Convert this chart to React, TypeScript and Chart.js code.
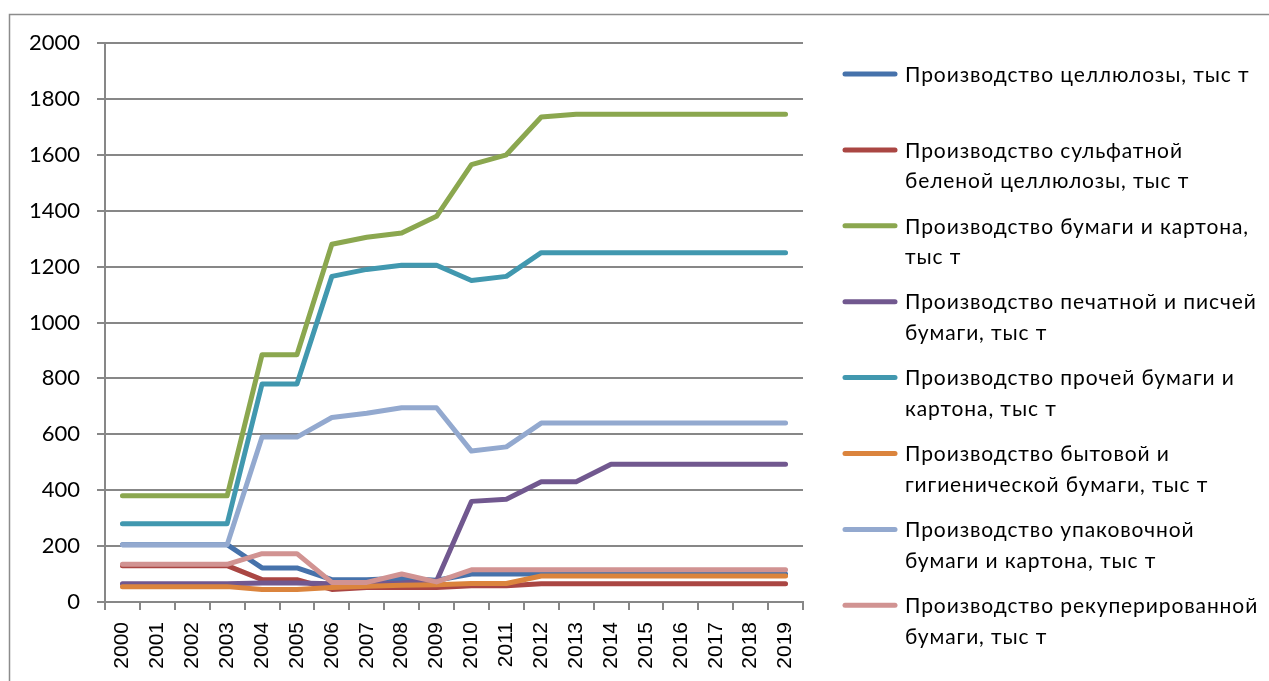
import { useEffect, useRef } from 'react';
import { Chart, registerables } from 'chart.js';

Chart.register(...registerables);

const years = ['2000', '2001', '2002', '2003', '2004', '2005', '2006', '2007', '2008', '2009', '2010', '2011', '2012', '2013', '2014', '2015', '2016', '2017', '2018', '2019'];

const cellulose = [205, 205, 205, 205, 122, 122, 80, 80, 85, 78, 100, 100, 100, 100, 100, 100, 100, 100, 100, 100];
const sulfateCellulose = [130, 130, 130, 130, 80, 80, 45, 52, 52, 52, 58, 58, 65, 65, 65, 65, 65, 65, 65, 65];
const paperBoard = [380, 380, 380, 380, 885, 885, 1280, 1305, 1320, 1380, 1565, 1600, 1735, 1745, 1745, 1745, 1745, 1745, 1745, 1745];
const printingPaper = [65, 65, 65, 65, 68, 68, 65, 65, 68, 75, 360, 368, 430, 430, 493, 493, 493, 493, 493, 493];
const otherPaper = [280, 280, 280, 280, 780, 780, 1165, 1190, 1205, 1205, 1150, 1165, 1250, 1250, 1250, 1250, 1250, 1250, 1250, 1250];
const householdPaper = [55, 55, 55, 55, 45, 45, 52, 56, 60, 62, 66, 66, 93, 93, 93, 93, 93, 93, 93, 93];
const packagingPaper = [205, 205, 205, 205, 590, 590, 660, 675, 695, 695, 540, 555, 640, 640, 640, 640, 640, 640, 640, 640];
const recoveredPaper = [135, 135, 135, 135, 173, 173, 70, 70, 100, 72, 115, 115, 115, 115, 115, 115, 115, 115, 115, 115];

const seriesLabels: string[][] = [
  ['Производство целлюлозы, тыс т'],
  ['Производство сульфатной', 'беленой целлюлозы, тыс т'],
  ['Производство бумаги и картона,', 'тыс т'],
  ['Производство печатной и писчей', 'бумаги, тыс т'],
  ['Производство прочей бумаги и', 'картона, тыс т'],
  ['Производство бытовой и', 'гигиенической бумаги, тыс т'],
  ['Производство упаковочной', 'бумаги и картона, тыс т'],
  ['Производство рекуперированной', 'бумаги, тыс т'],
];
const seriesData = [cellulose, sulfateCellulose, paperBoard, printingPaper, otherPaper, householdPaper, packagingPaper, recoveredPaper];
const seriesColors = ['#4672AB', '#AA4643', '#8BA74F', '#71588F', '#4198AF', '#DB843D', '#93A9CF', '#D19392'];

const yTickValues = [0, 200, 400, 600, 800, 1000, 1200, 1400, 1600, 1800, 2000];

const axisColor = '#878787';

const framePlugin = {
  id: 'frame',
  beforeDraw(chart: any) {
    const ctx = chart.ctx;
    ctx.save();
    ctx.fillStyle = '#ffffff';
    ctx.fillRect(0, 0, chart.width, chart.height);
    ctx.strokeStyle = '#8c8c8c';
    ctx.lineWidth = 1.5;
    ctx.strokeRect(9.5, 14.5, 1400, 800);
    ctx.restore();
  },
};

const legendPlugin = {
  id: 'sideLegend',
  afterDraw(chart: any) {
    const ctx = chart.ctx;
    ctx.save();
    ctx.font = '21px Lato';
    try { (ctx as any).letterSpacing = '0.9px'; } catch (e) { /* ignore */ }
    ctx.textBaseline = 'middle';
    ctx.textAlign = 'left';
    const startY = 75;
    const slot = 75.9;
    const lineGap = 30.5;
    seriesLabels.forEach((lines, i) => {
      const y = startY + i * slot;
      ctx.strokeStyle = seriesColors[i];
      ctx.lineWidth = 5;
      ctx.lineCap = 'round';
      ctx.beginPath();
      ctx.moveTo(845, y - 1);
      ctx.lineTo(895, y - 1);
      ctx.stroke();
      ctx.fillStyle = '#000';
      lines.forEach((t, j) => {
        ctx.fillText(t, 905, y + j * lineGap);
      });
    });
    ctx.restore();
  },
};

export default function App() {
  const ref = useRef<HTMLCanvasElement>(null);
  useEffect(() => {
    const chart = new Chart(ref.current!, {
      type: 'line',
      data: {
        labels: years,
        datasets: seriesData.map((d, i) => ({
          label: seriesLabels[i].join(' '),
          data: d,
          borderColor: seriesColors[i],
          backgroundColor: seriesColors[i],
          borderWidth: 5,
          pointRadius: 0,
          tension: 0,
          borderCapStyle: 'round',
          borderJoinStyle: 'round',
          order: seriesData.length - i,
          fill: false,
        })),
      },
      options: {
        responsive: false,
        animation: false,
        layout: { padding: { left: 0, top: 43, right: 466, bottom: 0 } },
        plugins: { legend: { display: false }, tooltip: { enabled: false } },
        scales: {
          x: {
            offset: true,
            grid: { offset: true, drawOnChartArea: false, drawTicks: true, tickLength: 8, color: axisColor, lineWidth: 2 },
            border: { display: true, color: axisColor, width: 2 },
            ticks: {
              autoSkip: false,
              minRotation: 90,
              maxRotation: 90,
              padding: 12,
              color: '#000',
              font: { family: 'Liberation Sans', size: 21 },
            },
            afterFit: (s: any) => { s.height = 79; },
          },
          y: {
            min: 0,
            max: 2000,
            afterBuildTicks: (s: any) => { s.ticks = yTickValues.map((v) => ({ value: v })); },
            grid: { color: axisColor, lineWidth: 2, tickLength: 8, drawTicks: true },
            border: { display: true, color: axisColor, width: 2 },
            ticks: {
              padding: 17,
              color: '#000',
              font: { family: 'Lato', size: 22 },
              callback: (v: any) => String(v),
            },
            afterFit: (s: any) => { s.width = 105; },
          },
        },
      },
      plugins: [framePlugin, legendPlugin],
    } as any);
    return () => chart.destroy();
  }, []);
  return (
    <div style={{ position: 'fixed', left: 0, top: 0, width: 1269, height: 681, background: '#fff', overflow: 'hidden' }}>
      <canvas ref={ref} width={1269} height={681} style={{ display: 'block' }} />
    </div>
  );
}
